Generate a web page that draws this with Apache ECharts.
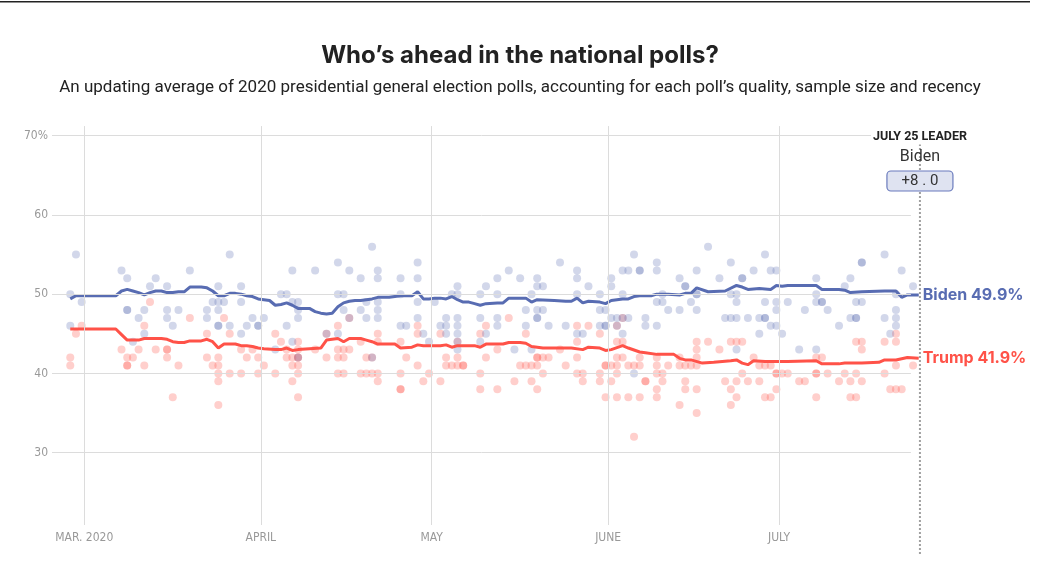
<!DOCTYPE html>
<html>
<head>
<meta charset="utf-8">
<script src="https://cdn.jsdelivr.net/npm/echarts@6/dist/echarts.min.js"></script>
<style>
  html, body { margin: 0; padding: 0; background: #fff; }
  #main { width: 1040px; height: 564px; }
</style>
</head>
<body>
<div id="main"></div>
<script>
// polls: [date (MM-DD, 2020), values]
const bidenPolls = [
  ['02-27', [50, 46]], ['02-28', [55]], ['02-29', [49]],
  ['03-07', [53]], ['03-08', [52, 48, 48]], ['03-09', [44]], ['03-10', [47]], ['03-11', [48, 45]],
  ['03-12', [51]], ['03-13', [52]], ['03-15', [51, 48, 47]], ['03-16', [46]], ['03-17', [48]],
  ['03-19', [53]], ['03-22', [48, 47]], ['03-23', [49]], ['03-24', [51, 49, 48, 46, 46]],
  ['03-25', [49]], ['03-26', [55, 46]], ['03-28', [51, 49, 45]], ['03-29', [46]], ['03-30', [47]],
  ['03-31', [46, 46]], ['04-01', [47]], ['04-03', [43]], ['04-04', [50]], ['04-05', [50, 46]],
  ['04-06', [53, 49, 44]], ['04-07', [49, 48, 47, 42]], ['04-10', [53]], ['04-12', [45]],
  ['04-14', [54, 50, 45]], ['04-15', [50, 48]], ['04-16', [53, 47]], ['04-18', [52, 48]],
  ['04-19', [49, 47]], ['04-20', [56, 42]], ['04-21', [53, 52, 49, 48, 47]], ['04-25', [52, 50, 46]],
  ['04-26', [46]], ['04-28', [54, 52, 49, 47]], ['04-29', [45]], ['04-30', [44]], ['05-01', [49]],
  ['05-02', [46]], ['05-03', [47, 46, 45]], ['05-04', [50]], ['05-05', [51, 50, 47, 46, 45, 44, 43]],
  ['05-09', [50, 47, 44]], ['05-10', [51, 45]], ['05-12', [52, 50, 47, 46]], ['05-14', [53]],
  ['05-15', [43]], ['05-16', [52]], ['05-17', [48, 46]], ['05-18', [50, 43]], ['05-19', [52, 51, 48, 47, 47]],
  ['05-20', [51, 48]], ['05-21', [46]], ['05-23', [54]], ['05-24', [46]], ['05-26', [53, 52, 50, 45]],
  ['05-27', [45]], ['05-28', [51]], ['05-30', [50, 48, 46]], ['05-31', [48, 46, 46]],
  ['06-01', [52, 51, 47]], ['06-02', [47, 46]], ['06-03', [53, 50, 47, 45]], ['06-04', [53, 47]],
  ['06-05', [55, 40]], ['06-06', [53, 53]], ['06-07', [47, 46]], ['06-09', [54, 53, 49, 46]],
  ['06-10', [50, 49]], ['06-11', [48]], ['06-13', [52, 48]], ['06-14', [51, 51]], ['06-15', [49]],
  ['06-16', [53, 50, 50, 48]], ['06-18', [56]], ['06-20', [52]], ['06-21', [47]], ['06-22', [54, 50, 47]],
  ['06-23', [50, 49, 47, 43]], ['06-24', [52, 52]], ['06-25', [47]], ['06-26', [53]], ['06-27', [47, 45]],
  ['06-28', [55, 49, 47, 47]], ['06-29', [53, 46]], ['06-30', [53, 49, 48, 46]], ['07-01', [45]],
  ['07-02', [49]], ['07-04', [43]], ['07-05', [48]], ['07-07', [52, 50, 49, 43]], ['07-08', [49, 49]],
  ['07-09', [48]], ['07-11', [46]], ['07-12', [51]], ['07-13', [52, 47]], ['07-14', [49, 47, 47]],
  ['07-15', [54, 54, 49]], ['07-19', [55, 47]], ['07-20', [45]], ['07-21', [50, 48, 47, 46]],
  ['07-22', [53]], ['07-24', [51]]
];

const trumpPolls = [
  ['02-27', [42, 41]], ['02-28', [45]], ['02-29', [46]],
  ['03-07', [43]], ['03-08', [42, 41, 41]], ['03-09', [42]], ['03-10', [43]], ['03-11', [46, 41]],
  ['03-12', [49]], ['03-13', [43]], ['03-15', [43, 43, 42]], ['03-16', [37]], ['03-17', [41]],
  ['03-19', [47]], ['03-22', [45, 42]], ['03-23', [41]], ['03-24', [42, 41, 40, 39, 36]], ['03-25', [47]],
  ['03-26', [45, 40]], ['03-28', [43, 40]], ['03-29', [42]], ['03-30', [43]], ['03-31', [42, 40]],
  ['04-01', [41]], ['04-03', [45, 40]], ['04-04', [44]], ['04-05', [43, 42]], ['04-06', [42, 41, 39]],
  ['04-07', [44, 43, 42, 42, 41, 40, 37]], ['04-10', [43]], ['04-12', [45, 42]], ['04-14', [46, 43, 42, 40]],
  ['04-15', [43, 42, 40]], ['04-16', [47, 43]], ['04-18', [44, 40]], ['04-19', [42, 40]], ['04-20', [42, 40]],
  ['04-21', [45, 44, 40, 39]], ['04-25', [44, 40, 38, 38]], ['04-26', [42]], ['04-28', [46, 45, 41]],
  ['04-29', [39]], ['04-30', [40]], ['05-02', [45, 39]], ['05-03', [42, 41]], ['05-04', [41]],
  ['05-05', [44, 42, 41]], ['05-06', [41, 41]], ['05-09', [45, 40, 38]], ['05-10', [46, 42]],
  ['05-12', [43, 38]], ['05-14', [47]], ['05-15', [39]], ['05-16', [41]], ['05-17', [45, 41]],
  ['05-18', [41, 39]], ['05-19', [42, 42, 41, 38]], ['05-20', [42, 40]], ['05-21', [42]], ['05-23', [43]],
  ['05-24', [41]], ['05-26', [46, 44, 42, 40]], ['05-27', [40, 39]], ['05-28', [46]], ['05-30', [45, 40, 39]],
  ['05-31', [41, 41, 37]], ['06-01', [41, 39]], ['06-02', [46, 44, 42, 41, 40, 37]], ['06-03', [47, 44, 42]],
  ['06-04', [41, 37]], ['06-05', [41, 32]], ['06-06', [42, 41, 37]], ['06-07', [39, 39]],
  ['06-09', [42, 41, 40, 38, 37]], ['06-10', [40, 39]], ['06-11', [41]], ['06-13', [42, 41, 36]],
  ['06-14', [41, 39, 38]], ['06-15', [41]], ['06-16', [44, 43, 42, 41, 38, 35]], ['06-18', [44]],
  ['06-20', [43]], ['06-21', [39]], ['06-22', [44, 38, 36]], ['06-23', [44, 39, 37]], ['06-24', [44, 40]],
  ['06-25', [39]], ['06-26', [42]], ['06-27', [41, 39]], ['06-28', [41, 37]], ['06-29', [41, 37]],
  ['06-30', [40, 40, 38]], ['07-01', [40]], ['07-02', [40]], ['07-04', [39]], ['07-05', [39]],
  ['07-07', [42, 40, 40, 37]], ['07-08', [42]], ['07-09', [40]], ['07-11', [39]], ['07-12', [40]],
  ['07-13', [39, 37]], ['07-14', [44, 40, 37]], ['07-15', [44, 43, 39]], ['07-19', [44, 40]], ['07-20', [38]],
  ['07-21', [45, 44, 41, 38]], ['07-22', [38]], ['07-24', [41]]
];

// polling averages
const bidenAvg = [
  ['02-27', 49.4], ['02-28', 49.8], ['03-06', 49.8], ['03-07', 50.4], ['03-08', 50.6], ['03-09', 50.4],
  ['03-10', 50.2], ['03-11', 49.9], ['03-12', 50.2], ['03-13', 50.4], ['03-14', 50.4], ['03-15', 50.2],
  ['03-16', 50.2], ['03-17', 50.3], ['03-18', 50.3], ['03-19', 50.9], ['03-21', 50.9], ['03-22', 50.8],
  ['03-23', 50.4], ['03-24', 49.8], ['03-25', 49.8], ['03-26', 50.1], ['03-27', 50.1], ['03-28', 50.0],
  ['03-29', 49.8], ['03-30', 49.7], ['03-31', 49.4], ['04-01', 49.3], ['04-02', 49.2], ['04-03', 48.6],
  ['04-04', 48.7], ['04-05', 48.9], ['04-06', 48.6], ['04-07', 48.2], ['04-09', 48.2], ['04-10', 47.8],
  ['04-11', 47.6], ['04-12', 47.5], ['04-13', 47.6], ['04-14', 48.4], ['04-15', 48.9], ['04-16', 49.1],
  ['04-17', 49.2], ['04-18', 49.2], ['04-19', 49.3], ['04-20', 49.4], ['04-21', 49.6], ['04-22', 49.6],
  ['04-23', 49.6], ['04-24', 49.7], ['04-25', 49.8], ['04-26', 49.8], ['04-27', 49.8], ['04-28', 50.3],
  ['04-29', 49.4], ['04-30', 49.4], ['05-01', 49.5], ['05-02', 49.5], ['05-03', 49.4], ['05-04', 49.7],
  ['05-05', 49.3], ['05-06', 49.0], ['05-07', 49.0], ['05-08', 48.8], ['05-09', 48.6], ['05-10', 48.8],
  ['05-12', 48.9], ['05-13', 48.9], ['05-14', 49.5], ['05-17', 49.5], ['05-18', 49.0], ['05-19', 49.3],
  ['05-22', 49.2], ['05-24', 49.1], ['05-25', 49.1], ['05-26', 49.5], ['05-27', 48.9], ['05-28', 49.1],
  ['05-30', 49.0], ['05-31', 48.8], ['06-01', 49.2], ['06-02', 49.3], ['06-03', 49.4], ['06-04', 49.4],
  ['06-05', 49.7], ['06-06', 49.8], ['06-08', 49.8], ['06-09', 50.0], ['06-11', 50.0], ['06-13', 49.9],
  ['06-14', 50.1], ['06-15', 50.1], ['06-16', 50.8], ['06-18', 50.3], ['06-21', 50.4], ['06-23', 51.1],
  ['06-24', 50.9], ['06-25', 50.6], ['06-27', 50.7], ['06-29', 50.6], ['06-30', 51.1], ['07-01', 51.0],
  ['07-02', 51.1], ['07-07', 51.1], ['07-08', 50.6], ['07-11', 50.6], ['07-12', 50.5], ['07-13', 50.2],
  ['07-15', 50.3], ['07-19', 50.4], ['07-21', 50.4], ['07-22', 49.6], ['07-23', 49.9], ['07-25', 49.9]
];

const trumpAvg = [
  ['02-27', 45.6], ['03-06', 45.6], ['03-07', 44.9], ['03-08', 44.2], ['03-10', 44.2], ['03-11', 44.4],
  ['03-14', 44.4], ['03-15', 44.3], ['03-16', 44.0], ['03-17', 43.9], ['03-18', 43.9], ['03-19', 44.1],
  ['03-21', 44.1], ['03-22', 44.3], ['03-23', 44.0], ['03-24', 43.2], ['03-25', 43.7], ['03-27', 43.7],
  ['03-28', 43.5], ['03-29', 43.5], ['03-30', 43.4], ['03-31', 43.2], ['04-01', 43.1], ['04-03', 43.0],
  ['04-04', 43.0], ['04-05', 43.2], ['04-06', 42.9], ['04-07', 43.0], ['04-09', 43.1], ['04-11', 43.2],
  ['04-12', 44.2], ['04-14', 44.4], ['04-15', 44.0], ['04-16', 44.4], ['04-18', 44.4], ['04-19', 44.2],
  ['04-20', 44.0], ['04-21', 43.7], ['04-24', 43.7], ['04-25', 43.2], ['04-27', 43.3], ['04-28', 43.6],
  ['04-29', 43.5], ['05-02', 43.5], ['05-03', 43.6], ['05-04', 43.3], ['05-05', 43.5], ['05-06', 43.5],
  ['05-08', 43.5], ['05-09', 43.3], ['05-10', 43.7], ['05-13', 43.7], ['05-14', 43.9], ['05-16', 43.9],
  ['05-17', 43.8], ['05-18', 43.4], ['05-20', 43.2], ['05-23', 43.2], ['05-25', 43.2], ['05-27', 43.0],
  ['05-28', 43.3], ['05-30', 43.2], ['05-31', 42.9], ['06-01', 43.0], ['06-03', 43.5], ['06-04', 43.2],
  ['06-06', 42.7], ['06-07', 42.6], ['06-09', 42.4], ['06-12', 42.4], ['06-13', 41.9], ['06-14', 41.7],
  ['06-15', 41.7], ['06-17', 41.3], ['06-19', 41.4], ['06-22', 41.6], ['06-23', 41.7], ['06-24', 41.3],
  ['06-25', 41.1], ['06-26', 41.6], ['06-28', 41.5], ['06-30', 41.5], ['07-02', 41.5], ['07-07', 41.6],
  ['07-08', 41.2], ['07-11', 41.2], ['07-12', 41.3], ['07-15', 41.3], ['07-18', 41.4], ['07-19', 41.7],
  ['07-21', 41.7], ['07-23', 42.0], ['07-25', 41.9]
];

const monthTicks = ['03-01', '04-01', '05-01', '06-01', '07-01'];
const monthLabels = ['MAR. 2020', 'APRIL', 'MAY', 'JUNE', 'JULY'];
const yTicks = [30, 40, 50, 60, 70];

const BLUE = '#586cb2';
const RED = '#ff5248';
const GRID = '#dcdcdc';
const AXIS_FONT = 'DejaVu Sans Condensed, sans-serif';

// dates -> timestamps (polls sit around midday)
function ts(md, hour) {
  const p = md.split('-').map(Number);
  return Date.UTC(2020, p[0] - 1, p[1], hour == null ? 13 : hour);
}
function pollPoints(list) {
  const out = [];
  list.forEach(function (d) {
    d[1].forEach(function (v) { out.push([ts(d[0]), v]); });
  });
  return out;
}
function avgPoints(list) {
  return list.map(function (d) { return [ts(d[0]), d[1]]; });
}

const xMin = Date.UTC(2020, 1, 24, 8);
const xMax = Date.UTC(2020, 6, 25, 22, 30);
const gridEnd = Date.UTC(2020, 6, 24, 4);
const monthTs = monthTicks.map(function (m) { return ts(m, 0); });

const hLines = yTicks.map(function (v) {
  return [{ coord: [xMin, v] }, { coord: [gridEnd, v] }];
});
const vLines = monthTs.map(function (t) {
  return [{ coord: [t, 20.86] }, { coord: [t, 71.22] }];
});

const chart = echarts.init(document.getElementById('main'), null, { renderer: 'canvas' });

chart.setOption({
  animation: false,
  backgroundColor: '#fff',
  title: {
    text: 'Who’s ahead in the national polls?',
    subtext: 'An updating average of 2020 presidential general election polls, accounting for each poll’s quality, sample size and recency',
    left: 'center',
    top: 39,
    itemGap: 11,
    textStyle: { fontFamily: 'Inter', fontWeight: 700, fontSize: 24, color: '#222' },
    subtextStyle: { fontFamily: 'Roboto', fontSize: 17, color: '#222' }
  },
  grid: { left: 52, right: 119, top: 119.9, bottom: 32.2 },
  xAxis: {
    type: 'time',
    min: xMin,
    max: xMax,
    axisLine: { show: false },
    axisTick: { show: false },
    splitLine: { show: false },
    axisLabel: { show: false }
  },
  yAxis: {
    type: 'value',
    min: 20,
    max: 72,
    interval: 10,
    axisLine: { show: false },
    axisTick: { show: false },
    splitLine: { show: false },
    axisLabel: {
      margin: 4,
      color: '#999',
      fontFamily: AXIS_FONT,
      fontSize: 12,
      formatter: function (v) {
        if (yTicks.indexOf(v) < 0) return '';
        return v === 70 ? '70%' : String(v);
      }
    }
  },
  series: [
    {
      name: 'hgrid',
      type: 'line',
      data: [],
      silent: true,
      z: 1,
      markLine: {
        silent: true,
        symbol: 'none',
        label: { show: false },
        lineStyle: { color: GRID, width: 1, type: 'solid' },
        data: hLines
      }
    },
    {
      name: 'vgrid',
      type: 'line',
      data: [],
      silent: true,
      z: 1,
      markLine: {
        silent: true,
        symbol: 'none',
        lineStyle: { color: GRID, width: 1, type: 'solid' },
        label: {
          show: true,
          position: 'start',
          distance: 7,
          color: '#999',
          fontFamily: AXIS_FONT,
          fontSize: 12,
          formatter: function (p) { return monthLabels[p.dataIndex]; }
        },
        data: vLines
      }
    },
    {
      name: 'Trump polls',
      type: 'scatter',
      data: pollPoints(trumpPolls),
      symbolSize: 8,
      itemStyle: { color: RED, opacity: 0.28 },
      silent: true,
      z: 2
    },
    {
      name: 'Biden polls',
      type: 'scatter',
      data: pollPoints(bidenPolls),
      symbolSize: 8,
      itemStyle: { color: BLUE, opacity: 0.27 },
      silent: true,
      z: 2
    },
    {
      name: 'Trump',
      type: 'line',
      data: avgPoints(trumpAvg),
      showSymbol: false,
      lineStyle: { color: RED, width: 3 },
      itemStyle: { color: RED },
      z: 3,
      endLabel: {
        show: true,
        distance: 4,
        formatter: function (p) { return 'Trump ' + p.value[1].toFixed(1) + '%'; },
        color: RED,
        fontFamily: 'Inter',
        fontWeight: 700,
        fontSize: 16
      }
    },
    {
      name: 'Biden',
      type: 'line',
      data: avgPoints(bidenAvg),
      showSymbol: false,
      lineStyle: { color: BLUE, width: 3 },
      itemStyle: { color: BLUE },
      z: 3,
      endLabel: {
        show: true,
        distance: 4,
        formatter: function (p) { return 'Biden ' + p.value[1].toFixed(1) + '%'; },
        color: BLUE,
        fontFamily: 'Inter',
        fontWeight: 700,
        fontSize: 16
      }
    }
  ]
});

// leader annotation at the last average date
const lastB = bidenAvg[bidenAvg.length - 1];
const lastT = trumpAvg[trumpAvg.length - 1];
const lead = lastB[1] >= lastT[1] ? 'Biden' : 'Trump';
const margin = Math.abs(lastB[1] - lastT[1]).toFixed(1);
const monthNames = ['JANUARY', 'FEBRUARY', 'MARCH', 'APRIL', 'MAY', 'JUNE', 'JULY', 'AUGUST'];
const lp = lastB[0].split('-').map(Number);
const lx = chart.convertToPixel({ gridIndex: 0 }, [ts(lastB[0], 18), 50])[0];

chart.setOption({
  graphic: [
    { type: 'rect', shape: { x: 0, y: 1, width: 1030, height: 1.5 }, style: { fill: '#222' }, silent: true },
    {
      type: 'line', z: 50,
      shape: { x1: lx, y1: 144, x2: lx, y2: 554 },
      style: { stroke: '#a0a0a0', lineWidth: 2, lineDash: [2, 2] }, silent: true
    },
    {
      type: 'text', z: 60,
      style: {
        text: monthNames[lp[0] - 1] + ' ' + lp[1] + ' LEADER',
        x: lx, y: 137, align: 'center', verticalAlign: 'middle',
        font: 'bold 12.5px Roboto', fill: '#222', backgroundColor: '#fff', padding: [1, 2]
      }, silent: true
    },
    {
      type: 'text', z: 60,
      style: {
        text: lead, x: lx, y: 157, align: 'center', verticalAlign: 'middle',
        font: '16px Roboto', fill: '#333'
      }, silent: true
    },
    {
      type: 'rect', z: 60,
      shape: { x: lx - 33, y: 171, width: 66, height: 20, r: 4 },
      style: { fill: '#dfe3f1', stroke: '#6a7bbd', lineWidth: 1.2 }, silent: true
    },
    {
      type: 'text', z: 61,
      style: {
        text: ('+' + margin).split('').join(' ').replace('+ ', '+'),
        x: lx, y: 181.5, align: 'center', verticalAlign: 'middle',
        font: '15px Roboto', fill: '#333'
      }, silent: true
    }
  ]
});
</script>
</body>
</html>
